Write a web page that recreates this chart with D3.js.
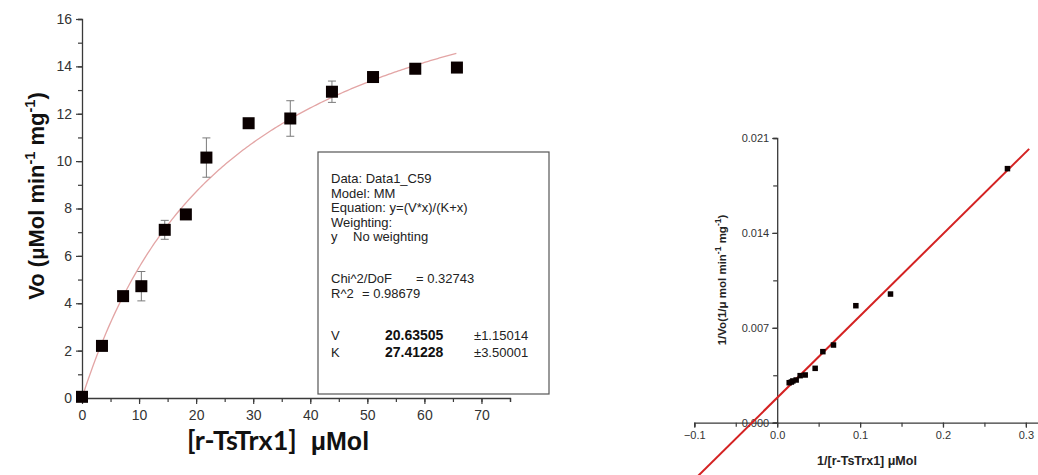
<!DOCTYPE html>
<html><head><meta charset="utf-8">
<script src="https://cdn.jsdelivr.net/npm/d3@7"></script>
<style>
body{margin:0;background:#fff;}
svg{display:block;}
text{font-family:"Liberation Sans",Arial,sans-serif;}
</style></head>
<body>
<svg id="c" width="1038" height="475"></svg>
<script>
// ---- Left chart: Michaelis-Menten ----
const conc = [0, 3.5, 7.2, 10.4, 14.5, 18.2, 21.8, 29.2, 36.5, 43.8, 51.0, 58.4, 65.7];
const vo   = [0.05, 2.2, 4.3, 4.72, 7.1, 7.75, 10.15, 11.6, 11.8, 12.93, 13.55, 13.9, 13.95];
const voErr= [0, 0, 0.12, 0.62, 0.4, 0, 0.83, 0.15, 0.75, 0.45, 0, 0, 0];
const fitV = 20.63505, fitK = 27.41228;
const fitRange = [0, 65.6];
const leftXTicks = [0, 10, 20, 30, 40, 50, 60, 70];
const leftYTicks = [0, 2, 4, 6, 8, 10, 12, 14, 16];
const legendLines = [
  ["Data: Data1_C59"],
  ["Model: MM"],
  ["Equation: y=(V*x)/(K+x)"],
  ["Weighting:"],
  ["y", "No weighting"],
  ["Chi^2/DoF", "= 0.32743"],
  ["R^2", "=  0.98679"],
  ["V", "20.63505", "±1.15014"],
  ["K", "27.41228", "±3.50001"]
];
const legendRowY = [183, 197.5, 212, 226.5, 241, 283, 297.5, 340, 357];

// ---- Right chart: Lineweaver-Burk ----
const invConc = [0.0145, 0.0171, 0.0189, 0.0229, 0.0277, 0.0338, 0.0458, 0.0551, 0.0679, 0.0949, 0.1367, 0.2778];
const invVo   = [0.00295, 0.00300, 0.00308, 0.00315, 0.00347, 0.00352, 0.00401, 0.00524, 0.00573, 0.00863, 0.00949, 0.01874];
const lbLineX = [-0.1, 0.304];
const lbLineY = [-0.0042, 0.0202];
const rightXTicks = [-0.1, 0.0, 0.1, 0.2, 0.3];
const rightYTicks = [0.000, 0.007, 0.014, 0.021];

const svg = d3.select("#c");
const axisCol = "#3a3a3a";

// ===== LEFT =====
const xL = d3.scaleLinear().domain([0, 75]).range([82, 510]);
const yL = d3.scaleLinear().domain([0, 16]).range([398, 19]);
const gL = svg.append("g");

function styleAxis(g, fs) {
  g.selectAll("path.domain").attr("stroke", axisCol).attr("stroke-width", 1.3);
  g.selectAll(".tick line").attr("stroke", axisCol).attr("stroke-width", 1.2);
  g.selectAll(".tick text").attr("fill", "#333").attr("font-size", fs)
    .attr("font-family", "Liberation Sans, Arial, sans-serif");
}

const xAxL = gL.append("g").attr("transform", `translate(0,${yL(0)})`)
  .call(d3.axisBottom(xL).tickValues(d3.range(0, 76, 5)).tickSize(4).tickFormat(""));
styleAxis(xAxL, 14);
const xAxLM = gL.append("g").attr("transform", `translate(0,${yL(0)})`)
  .call(d3.axisBottom(xL).tickValues(leftXTicks).tickSize(6).tickPadding(6).tickFormat(d3.format("d")));
styleAxis(xAxLM, 14);
xAxLM.select("path.domain").remove();

const yAxL = gL.append("g").attr("transform", `translate(${xL(0)},0)`)
  .call(d3.axisLeft(yL).tickValues(d3.range(0, 17, 1)).tickSize(4).tickFormat(""));
styleAxis(yAxL, 14);
const yAxLM = gL.append("g").attr("transform", `translate(${xL(0)},0)`)
  .call(d3.axisLeft(yL).tickValues(leftYTicks).tickSize(6).tickPadding(4).tickFormat(d3.format("d")));
styleAxis(yAxLM, 14);
yAxLM.select("path.domain").remove();

// fit curve (fitted MM model with V, K from the legend)
const curvePts = d3.range(0, 201).map(i => {
  const x = fitRange[0] + (fitRange[1] - fitRange[0]) * i / 200;
  return [x, fitV * x / (fitK + x)];
});
gL.append("path").datum(curvePts)
  .attr("fill", "none").attr("stroke", "#e3a5a5").attr("stroke-width", 1.3)
  .attr("d", d3.line().x(d => xL(d[0])).y(d => yL(d[1])));

// error bars
const eb = gL.append("g").attr("stroke", "#7a7a7a").attr("stroke-width", 1);
conc.forEach((c, i) => {
  if (voErr[i] <= 0) return;
  const x = xL(c), y1 = yL(vo[i] + voErr[i]), y2 = yL(vo[i] - voErr[i]);
  eb.append("line").attr("x1", x).attr("x2", x).attr("y1", y1).attr("y2", y2);
  eb.append("line").attr("x1", x - 4).attr("x2", x + 4).attr("y1", y1).attr("y2", y1);
  eb.append("line").attr("x1", x - 4).attr("x2", x + 4).attr("y1", y2).attr("y2", y2);
});

// markers
const ms = 12;
gL.append("g").selectAll("rect").data(conc).join("rect")
  .attr("x", (d) => xL(d) - ms / 2).attr("y", (d, i) => yL(vo[i]) - ms / 2)
  .attr("width", ms).attr("height", ms).attr("fill", "#0a0000");

// axis titles
gL.append("text").attr("transform", "translate(44,196) rotate(-90)")
  .attr("text-anchor", "middle").attr("font-size", 22).attr("font-weight", "bold").attr("fill", "#111")
  .call(t => {
    t.append("tspan").text("Vo (");
    t.append("tspan").attr("font-size", 20).text("μ");
    t.append("tspan").text("Mol min");
    t.append("tspan").attr("font-size", 14.5).attr("dy", -9).text("-1");
    t.append("tspan").attr("dy", 9).text(" mg");
    t.append("tspan").attr("font-size", 14.5).attr("dy", -9).text("-1");
    t.append("tspan").attr("dy", 9).text(")");
  });
gL.append("text").attr("x", 278).attr("y", 450).attr("text-anchor", "middle")
  .attr("font-size", 25).attr("font-weight", "bold").attr("fill", "#111")
  .call(t => {
    t.append("tspan").attr("font-family", "Lato, 'Open Sans', sans-serif").attr("font-size", 27).text("[r-TsTrx1]");
    t.append("tspan").text("\u00a0\u00a0μMol");
  });

// legend box
const lb = gL.append("g");
lb.append("rect").attr("x", 318).attr("y", 152).attr("width", 231).attr("height", 242)
  .attr("fill", "#fff").attr("stroke", "#555").attr("stroke-width", 1.2);
const lfs = 13;
legendLines.forEach((ln, i) => {
  const y = legendRowY[i];
  const t = lb.append("text").attr("y", y).attr("font-size", lfs).attr("fill", "#222");
  t.attr("x", 331).text(ln[0]);
  if (ln.length === 2) {
    const x2 = ln[0] === "y" ? 353 : (ln[0] === "R^2" ? 362 : 416);
    lb.append("text").attr("x", x2).attr("y", y).attr("font-size", lfs).attr("fill", "#222").text(ln[1]);
  } else if (ln.length === 3) {
    lb.append("text").attr("x", 385).attr("y", y).attr("font-size", 14).attr("font-weight", "bold").attr("fill", "#111").text(ln[1]);
    lb.append("text").attr("x", 474).attr("y", y).attr("font-size", lfs).attr("fill", "#222").text(ln[2]);
  }
});

// ===== RIGHT =====
const xR = d3.scaleLinear().domain([-0.1, 0.315]).range([694.3, 1038.3]);
const yR = d3.scaleLinear().domain([0, 0.021]).range([422.7, 138]);
const gR = svg.append("g");

const xAxR = gR.append("g").attr("transform", `translate(0,${yR(0)})`)
  .call(d3.axisBottom(xR).tickValues(d3.range(-0.1, 0.31, 0.05)).tickSize(4).tickFormat(""));
styleAxis(xAxR, 10);
const xAxRM = gR.append("g").attr("transform", `translate(0,${yR(0)})`)
  .call(d3.axisBottom(xR).tickValues(rightXTicks).tickSize(5).tickPadding(4).tickFormat(d3.format(".1f")));
styleAxis(xAxRM, 11);
xAxRM.select("path.domain").remove();

const yAxR = gR.append("g").attr("transform", `translate(${xR(0)},0)`)
  .call(d3.axisLeft(yR).tickValues(d3.range(0, 0.0211, 0.0035)).tickSize(4).tickFormat(""));
styleAxis(yAxR, 10);
const yAxRM = gR.append("g").attr("transform", `translate(${xR(0)},0)`)
  .call(d3.axisLeft(yR).tickValues(rightYTicks).tickSize(5).tickPadding(3).tickFormat(d3.format(".3f")));
styleAxis(yAxRM, 11);
yAxRM.select("path.domain").remove();

// fit line
gR.append("line")
  .attr("x1", xR(lbLineX[0])).attr("y1", yR(lbLineY[0]))
  .attr("x2", xR(lbLineX[1])).attr("y2", yR(lbLineY[1]))
  .attr("stroke", "#d42222").attr("stroke-width", 2);

// markers
const ms2 = 5.5;
gR.append("g").selectAll("rect").data(invConc).join("rect")
  .attr("x", d => xR(d) - ms2 / 2).attr("y", (d, i) => yR(invVo[i]) - ms2 / 2)
  .attr("width", ms2).attr("height", ms2).attr("fill", "#0a0000");

// titles
gR.append("text").attr("x", 867).attr("y", 465).attr("text-anchor", "middle")
  .attr("font-size", 12.5).attr("font-weight", "bold").attr("fill", "#222")
  .text("1/[r-TsTrx1] μMol");
gR.append("text").attr("transform", "translate(726,280) rotate(-90)")
  .attr("text-anchor", "middle").attr("font-size", 11.5).attr("font-weight", "bold").attr("fill", "#222")
  .call(t => {
    t.append("tspan").text("1/Vo(1/μ mol min");
    t.append("tspan").attr("font-size", 8.5).attr("dy", -5).text("-1");
    t.append("tspan").attr("dy", 5).text(" mg");
    t.append("tspan").attr("font-size", 8.5).attr("dy", -5).text("-1");
    t.append("tspan").attr("dy", 5).text(")");
  });
</script>
</body></html>
